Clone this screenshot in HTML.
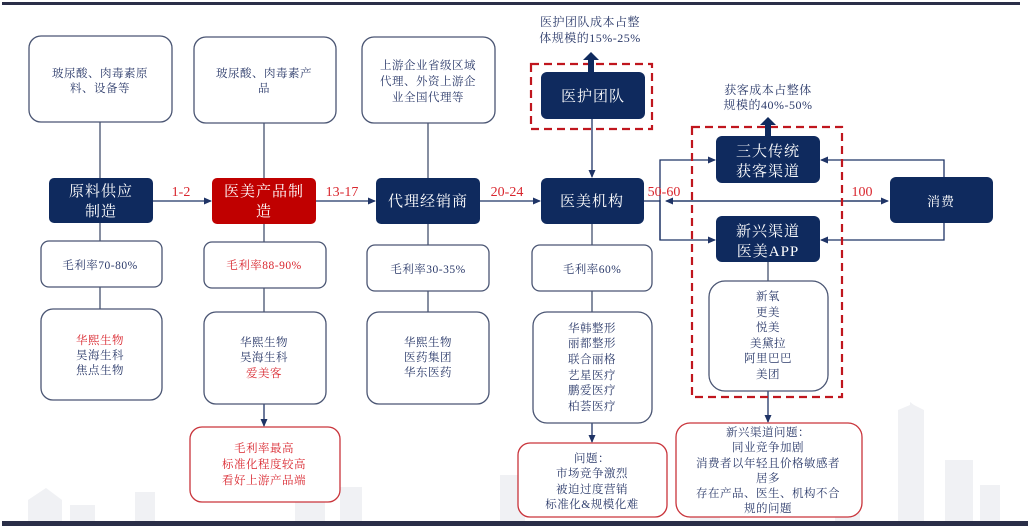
<!DOCTYPE html>
<html><head><meta charset="utf-8"><style>
html,body{margin:0;padding:0;background:#fff;}
svg{display:block;}
text{font-family:"Liberation Serif","Noto Serif CJK SC",serif;}
</style></head><body>
<svg width="1028" height="526" viewBox="0 0 1028 526" xmlns="http://www.w3.org/2000/svg">
<defs>
<marker id="a" markerWidth="8" markerHeight="8" refX="7" refY="4" orient="auto" markerUnits="userSpaceOnUse"><path d="M0,0.5 L8,4 L0,7.5 z" fill="#1f3466"/></marker>
</defs>
<rect width="1028" height="526" fill="#fff"/>
<g fill="#f0f1f4">
<path d="M28,522 V500 L46,488 L62,500 V522z"/><rect x="70" y="505" width="25" height="17"/><rect x="135" y="492" width="20" height="30"/>
<rect x="295" y="490" width="30" height="32"/><rect x="340" y="487" width="22" height="35"/>
<rect x="500" y="475" width="25" height="47"/><rect x="690" y="475" width="30" height="47"/>
<rect x="835" y="465" width="25" height="57"/>
<path d="M898,522 V410 L910,405 V402 L914,405 L924,410 V522z"/>
<rect x="945" y="460" width="28" height="62"/><rect x="980" y="485" width="20" height="37"/>
</g>
<rect x="2" y="2" width="1018" height="3" fill="#2a2e48"/>
<rect x="2" y="521" width="1026" height="5" fill="#2a2e48"/>

<g stroke="#44506e" stroke-width="1.3" fill="none">
<line x1="100" y1="122" x2="100" y2="178"/><line x1="100" y1="223" x2="100" y2="241"/><line x1="100" y1="287" x2="100" y2="309"/>
<line x1="264" y1="123" x2="264" y2="178"/><line x1="264" y1="224" x2="264" y2="242"/><line x1="264" y1="288" x2="264" y2="312"/>
<line x1="428" y1="123" x2="428" y2="178"/><line x1="428" y1="224" x2="428" y2="245"/><line x1="428" y1="291" x2="428" y2="312"/>
<line x1="592" y1="224" x2="592" y2="245"/><line x1="592" y1="291" x2="592" y2="312"/>
<line x1="768" y1="262" x2="768" y2="281"/>
</g>
<g stroke="#1f3466" stroke-width="1.3" fill="none" marker-end="url(#a)">
<line x1="264" y1="404" x2="264" y2="426"/>
<line x1="592" y1="119" x2="592" y2="177"/>
<line x1="592" y1="423" x2="592" y2="442"/>
<line x1="768" y1="391" x2="768" y2="422"/>
<line x1="153" y1="201" x2="211" y2="201"/>
<line x1="316" y1="201" x2="375" y2="201"/>
<line x1="480" y1="201" x2="540" y2="201"/>
<line x1="644" y1="201" x2="660" y2="201" marker-end="none"/>
<polyline points="660,240 660,160 715,160"/>
<polyline points="660,200 660,240 715,240"/>
<line x1="668" y1="201" x2="888" y2="201"/>
<line x1="880" y1="201" x2="666" y2="201"/>
<polyline points="944,177 944,160 821,160"/>
<polyline points="944,223 944,240 821,240"/>
</g>

<g fill="#fff" stroke="#4a5573" stroke-width="1.3">
<rect x="29" y="36" width="143" height="86" rx="12"/>
<rect x="194" y="37" width="142" height="86" rx="12"/>
<rect x="362" y="37" width="133" height="86" rx="12"/>
<rect x="41" y="241" width="121" height="46" rx="8"/>
<rect x="204" y="242" width="122" height="46" rx="8"/>
<rect x="367" y="245" width="122" height="46" rx="8"/>
<rect x="532" y="245" width="120" height="46" rx="8"/>
<rect x="41" y="309" width="121" height="91" rx="12"/>
<rect x="204" y="312" width="122" height="92" rx="12"/>
<rect x="367" y="312" width="122" height="92" rx="12"/>
<rect x="533" y="312" width="119" height="111" rx="14"/>
<rect x="709" y="281" width="119" height="110" rx="16"/>
</g>
<g fill="#fff" stroke="#c9343b" stroke-width="1.3">
<rect x="190" y="427" width="150" height="75" rx="12"/>
<rect x="518" y="443" width="149" height="74" rx="12"/>
<rect x="676" y="423" width="186" height="94" rx="14"/>
</g>

<g fill="none" stroke="#c0161e" stroke-width="2.2" stroke-dasharray="8,5">
<rect x="531" y="64" width="121" height="65"/>
<rect x="692" y="127" width="150" height="270"/>
</g>

<g fill="#0f2a5e">
<rect x="49" y="178" width="104" height="45" rx="5"/>
<rect x="376" y="178" width="104" height="46" rx="5"/>
<rect x="541" y="72" width="104" height="47" rx="6"/>
<rect x="541" y="178" width="103" height="46" rx="6"/>
<rect x="716" y="136" width="104" height="47" rx="6"/>
<rect x="716" y="216" width="104" height="46" rx="6"/>
<rect x="890" y="177" width="103" height="46" rx="6"/>
<rect x="588" y="59" width="6" height="14"/><path d="M583,60 L591,52 L599,60z"/>
<rect x="765" y="124" width="6" height="13"/><path d="M760,125 L768,117 L776,125z"/>
</g>
<rect x="212" y="178" width="104" height="46" rx="5" fill="#c00000"/>

<g fill="#fff" font-size="15" text-anchor="middle" letter-spacing="1">
<text x="101" y="196">原料供应</text><text x="101" y="216">制造</text>
<text x="264" y="196">医美产品制</text><text x="264" y="216">造</text>
<text x="428" y="206">代理经销商</text>
<text x="593" y="101">医护团队</text>
<text x="592" y="206">医美机构</text>
<text x="768" y="156">三大传统</text><text x="768" y="176">获客渠道</text>
<text x="768" y="236">新兴渠道</text><text x="768" y="256">医美APP</text>
<text x="941" y="206" font-size="13">消费</text>
</g>

<g fill="#d9262e" font-size="14" text-anchor="middle">
<text x="181" y="196">1-2</text>
<text x="342" y="196">13-17</text>
<text x="507" y="196">20-24</text>
<text x="664" y="196">50-60</text>
<text x="862" y="196">100</text>
</g>

<g fill="#2b3a6a" font-size="11.5" text-anchor="middle" letter-spacing="0.5">
<text x="100" y="77">玻尿酸、肉毒素原</text><text x="100" y="92">料、设备等</text>
<text x="264" y="77">玻尿酸、肉毒素产</text><text x="264" y="92">品</text>
<text x="428" y="69">上游企业省级区域</text><text x="428" y="85">代理、外资上游企</text><text x="428" y="101">业全国代理等</text>
<text x="100" y="269">毛利率70-80%</text>
<text x="428" y="273">毛利率30-35%</text>
<text x="592" y="273">毛利率60%</text>
<text x="100" y="359">昊海生科</text><text x="100" y="374">焦点生物</text>
<text x="264" y="346">华熙生物</text><text x="264" y="361">昊海生科</text>
<text x="428" y="346">华熙生物</text><text x="428" y="361">医药集团</text><text x="428" y="376">华东医药</text>
<text x="592" y="332">华韩整形</text><text x="592" y="347">丽都整形</text><text x="592" y="363">联合丽格</text><text x="592" y="379">艺星医疗</text><text x="592" y="394">鹏爱医疗</text><text x="592" y="410">柏荟医疗</text>
<text x="768" y="300">新氧</text><text x="768" y="316">更美</text><text x="768" y="331">悦美</text><text x="768" y="347">美黛拉</text><text x="768" y="362">阿里巴巴</text><text x="768" y="378">美团</text>
<text x="592" y="462">问题：</text><text x="592" y="477">市场竞争激烈</text><text x="592" y="493">被迫过度营销</text><text x="592" y="508">标准化&amp;规模化难</text>
<text x="768" y="436">新兴渠道问题：</text><text x="768" y="451">同业竞争加剧</text><text x="768" y="467">消费者以年轻且价格敏感者</text><text x="768" y="482">居多</text><text x="768" y="497">存在产品、医生、机构不合</text><text x="768" y="512">规的问题</text>
<text x="590" y="26" font-size="12">医护团队成本占整</text><text x="590" y="42" font-size="12">体规模的15%-25%</text>
<text x="768" y="94" font-size="12">获客成本占整体</text><text x="768" y="109" font-size="12">规模的40%-50%</text>
</g>
<g fill="#d9262e" font-size="11.5" text-anchor="middle" letter-spacing="0.5">
<text x="100" y="344">华熙生物</text>
<text x="264" y="269">毛利率88-90%</text>
<text x="264" y="377">爱美客</text>
<text x="264" y="452">毛利率最高</text><text x="264" y="468">标准化程度较高</text><text x="264" y="484">看好上游产品端</text>
</g>
</svg>
</body></html>
